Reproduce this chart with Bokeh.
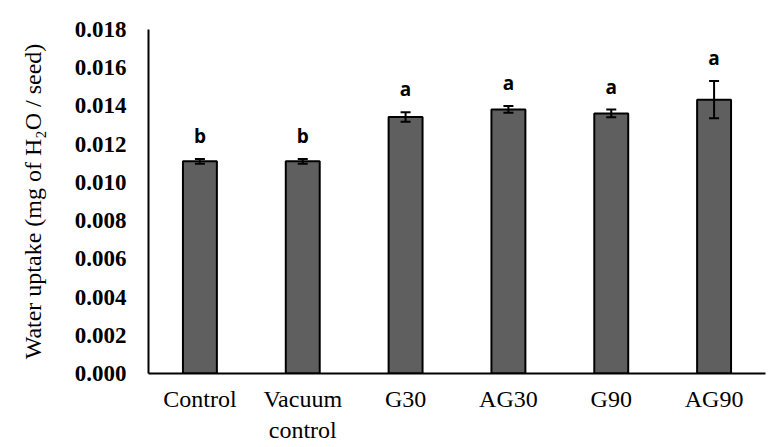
from bokeh.plotting import figure
from bokeh.models import ColumnDataSource, FactorRange, Range1d, FixedTicker, NumeralTickFormatter, Whisker, TeeHead
from bokeh.core.properties import value
from bokeh.embed import file_html
from bokeh.resources import INLINE

categories = ["Control", "Vacuum\ncontrol", "G30", "AG30", "G90", "AG90"]
uptake = [0.0111, 0.0111, 0.01342, 0.01382, 0.01361, 0.01433]
errors = [0.00012, 0.00012, 0.00025, 0.00018, 0.0002, 0.00097]
letters = ["b", "b", "a", "a", "a", "a"]
y_ticks = [0.0, 0.002, 0.004, 0.006, 0.008, 0.010, 0.012, 0.014, 0.016, 0.018]

upper = [u + e for u, e in zip(uptake, errors)]
lower = [u - e for u, e in zip(uptake, errors)]

src = ColumnDataSource(data=dict(cat=categories, val=uptake, upper=upper, lower=lower, letter=letters))

p = figure(x_range=FactorRange(factors=categories, range_padding=0),
           y_range=Range1d(0, 0.018),
           frame_width=617, frame_height=344,
           min_border_left=148, min_border_right=4, min_border_top=29, min_border_bottom=60,
           output_backend="svg", toolbar_location=None, tools="")

p.vbar(x="cat", top="val", width=0.33, source=src, fill_color="#5f5f5f",
       line_color="black", line_width=2)

w = Whisker(base="cat", upper="upper", lower="lower", source=src,
            line_color="black", line_width=2, level="overlay",
            upper_head=TeeHead(size=10, line_width=2, line_color="black"),
            lower_head=TeeHead(size=10, line_width=2, line_color="black"))
p.add_layout(w)

p.text(x="cat", y="upper", text="letter", source=src, y_offset=-23,
       text_align="center", text_baseline="alphabetic",
       text_font=value("Open Sans"), text_font_size="19px", text_font_style="bold",
       text_color="black")

p.xgrid.grid_line_color = None
p.ygrid.grid_line_color = None
p.outline_line_color = None

for ax in (p.xaxis[0], p.yaxis[0]):
    ax.axis_line_color = "black"
    ax.axis_line_width = 2
    ax.major_tick_line_color = None
    ax.minor_tick_line_color = None
    ax.major_tick_out = 0
    ax.major_tick_in = 0
    ax.major_label_text_font = "Liberation Serif"
    ax.major_label_text_color = "black"

p.yaxis.ticker = FixedTicker(ticks=y_ticks)
p.yaxis.formatter = NumeralTickFormatter(format="0.000")
p.yaxis.major_label_text_font_size = "23px"
p.yaxis.major_label_text_font_style = "bold"
p.yaxis.major_label_standoff = 22
p.yaxis.axis_label = "Water uptake (mg of H\u2082O / seed)"
p.yaxis.axis_label_text_font = "Liberation Serif"
p.yaxis.axis_label_text_font_size = "24px"
p.yaxis.axis_label_text_font_style = "normal"
p.yaxis.axis_label_text_color = "black"
p.yaxis.axis_label_standoff = 26

p.xaxis.major_label_text_font_size = "24px"
p.xaxis.major_label_standoff = 12

open("out.html", "w").write(file_html(p, INLINE))
